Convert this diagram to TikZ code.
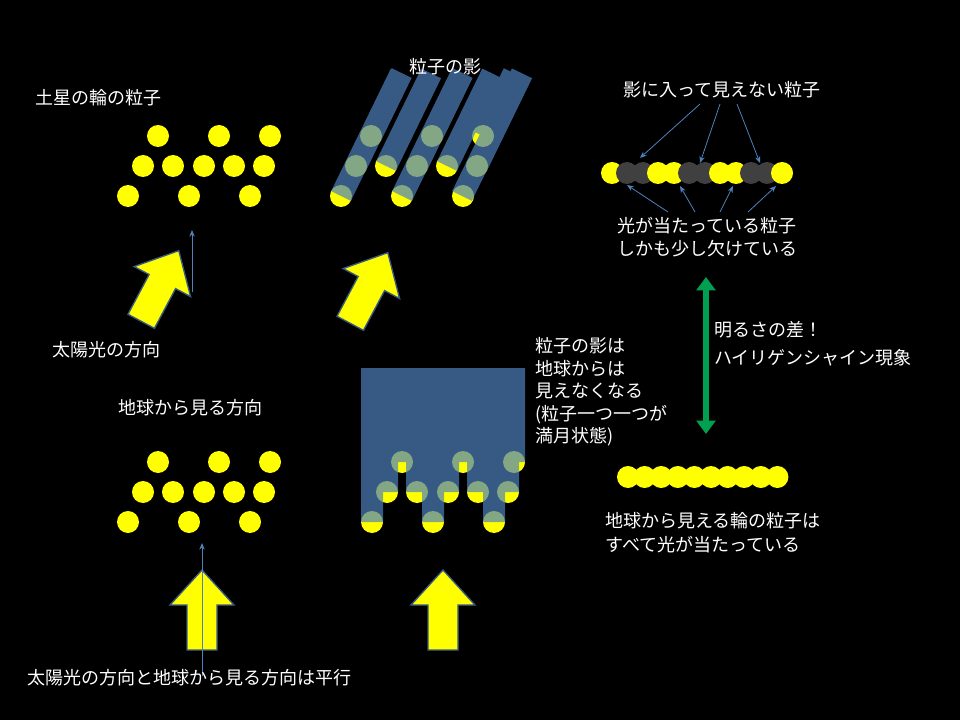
\documentclass[tikz,border=0pt]{standalone}
\usepackage{fontspec}
\setmainfont{Noto Sans CJK JP}
\usetikzlibrary{arrows.meta}
\definecolor{yel}{RGB}{255,255,0}
\definecolor{sb}{RGB}{79,129,189}
\definecolor{dg}{RGB}{64,64,64}
\definecolor{gr}{RGB}{0,160,80}
\tikzset{
 p/.style={fill=yel,draw=none},
 g/.style={fill=dg,draw=none},
 t/.style={text=white,font=\fontsize{13.5}{16}\selectfont,inner sep=0pt},
 tl/.style={t,anchor=west},
 thin/.style={draw=sb,line width=0.6pt,-{Stealth[length=5pt,width=4pt]}},
 blk/.style={fill=yel,draw=sb!70!black,line width=1pt},
}
\newcommand{\blkarrow}{(0,-40)--(32,-5)--(15,-5)--(15,40)--(-15,40)--(-15,-5)--(-32,-5)--cycle}
\begin{document}
\begin{tikzpicture}[x=0.75pt,y=-0.75pt]
\fill[black] (0,0) rectangle (960,720);
\useasboundingbox (0,0) rectangle (960,720);
% particle grids
\foreach \dx/\dy in {0/0,0/326,213/0,244/326}{
 \foreach \x/\y in {158/136,219/136,270/136,143/166,173/166,204/166,234/166,264/166,128/196,189/196,250/196}
  \fill[p] (\x+\dx,\y+\dy) circle (11);
}
% tilted shadows
\begin{scope}[transparency group,opacity=0.7]
\foreach \x/\y/\L in {371/136/70,432/136/70,483/136/70,356/166/103,386/166/103,417/166/103,447/166/103,477/166/103,341/196/136,402/196/136,462/196/136}
 \fill[sb,shift={(\x,\y)},rotate=-26] (-11,0) rectangle (11,-\L);
\end{scope}
% vertical shadows
\begin{scope}[transparency group,opacity=0.7]
\foreach \x/\y in {402/462,463/462,514/462,387/492,417/492,448/492,478/492,508/492,372/522,433/522,494/522}
 \fill[sb] (\x-11,368) rectangle (\x+11,\y);
\end{scope}
% block arrows
\begin{scope}[shift={(160,286)},rotate=-28] \path[blk] \blkarrow; \end{scope}
\begin{scope}[shift={(369,288)},rotate=-28] \path[blk] \blkarrow; \end{scope}
\begin{scope}[shift={(202,610)}] \path[blk] \blkarrow; \end{scope}
\begin{scope}[shift={(443,610)}] \path[blk] \blkarrow; \end{scope}
% thin direction arrows
\coordinate (a1) at (192,292); \coordinate (a2) at (192,230);
\draw[thin] (a1) -- (a2);
\coordinate (b1) at (202,676); \coordinate (b2) at (202,543);
\draw[thin] (b1) -- (b2);
% top right row
\foreach \x/\s in {612/p,627/g,643/g,658/p,674/p,689/g,705/g,720/p,736/p,751/g,767/g,782/p}
 \fill[\s] (\x,173) circle (11);
% bottom right row
\foreach \i in {0,...,9} \fill[p] (628+\i*16.6,477) circle (11);
% green double arrow
\coordinate (g1) at (706,277); \coordinate (g2) at (706,434);
\draw[gr,line width=4pt,{Triangle[length=10pt,width=14pt]}-{Triangle[length=10pt,width=14pt]}] (g1)--(g2);
% texts
\node[tl] (t1) at (35,98) {土星の輪の粒子};
\node[t] (t2) at (445,67) {粒子の影};
\node[t] (t3) at (722,90) {影に入って見えない粒子};
\node[tl,align=left,font=\fontsize{13.5}{17}\selectfont] (t4) at (617,237) {光が当たっている粒子\\しかも少し欠けている};
\node[tl] (t5) at (52,350) {太陽光の方向};
\node[tl] (t6) at (118,408) {地球から見る方向};
\node[tl,align=left,font=\fontsize{13.5}{16.9}\selectfont] (t7) at (535,392) {粒子の影は\\地球からは\\見えなくなる\\(粒子一つ一つが\\満月状態)};
\node[tl,align=left,font=\fontsize{13.5}{21}\selectfont] (t8) at (714,344) {明るさの差！\\ハイリゲンシャイン現象};
\node[tl,align=left,font=\fontsize{13.5}{18}\selectfont] (t9) at (605,533) {地球から見える輪の粒子は\\すべて光が当たっている};
\node[tl] (t10) at (27,678) {太陽光の方向と地球から見る方向は平行};
% label arrows
\coordinate (u1) at (700,104); \coordinate (u2) at (720,104); \coordinate (u3) at (737,104);
\coordinate (d1) at (640,158); \coordinate (d2) at (700,163); \coordinate (d3) at (760,163);
\draw[thin] (u1)--(d1); \draw[thin] (u2)--(d2); \draw[thin] (u3)--(d3);
\coordinate (w1) at (668,212); \coordinate (w2) at (695,212); \coordinate (w3) at (720,212); \coordinate (w4) at (748,212);
\coordinate (e1) at (627,185); \coordinate (e2) at (680,186); \coordinate (e3) at (733,186); \coordinate (e4) at (776,186);
\draw[thin] (w1)--(e1); \draw[thin] (w2)--(e2); \draw[thin] (w3)--(e3); \draw[thin] (w4)--(e4);
\end{tikzpicture}
\end{document}
